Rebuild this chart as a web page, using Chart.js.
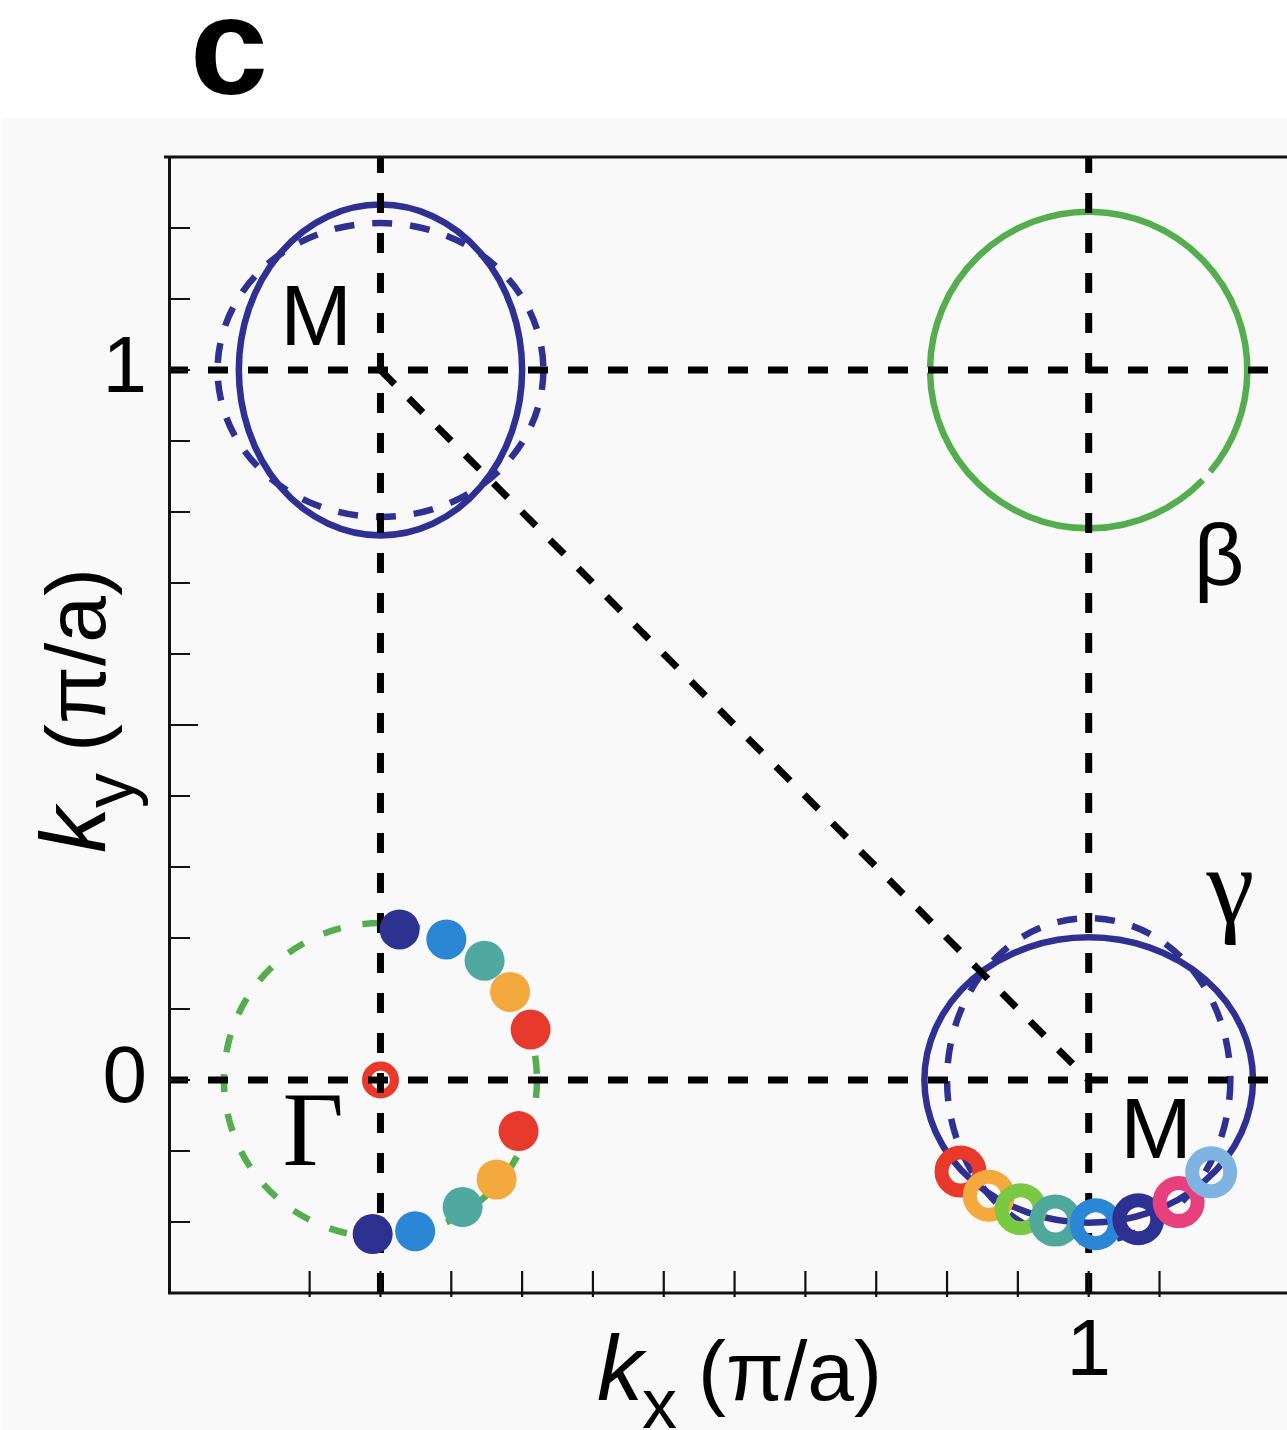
<!DOCTYPE html>
<html>
<head>
<meta charset="utf-8">
<title>Fermi surface sketch</title>
<script src="https://cdn.jsdelivr.net/npm/chart.js@4.4.1/dist/chart.umd.min.js"></script>
<style>
  html, body { margin: 0; padding: 0; background: #fff; overflow: hidden; }
  canvas { display: block; }
</style>
</head>
<body>
<canvas id="fs" width="1287" height="1430"></canvas>
<script>
// axis ranges, in pi/a
const xRange = [-0.3, 1.28];
const yRange = [-0.3, 1.3];
const xTickLabels = [1];
const yTickLabels = [0, 1];

// filled dots around Gamma
const gammaDotX = [0.027, 0.093, 0.147, 0.183, 0.212, 0.195, 0.164, 0.116, 0.049, -0.011];
const gammaDotY = [0.212, 0.198, 0.168, 0.124, 0.071, -0.072, -0.140, -0.179, -0.213, -0.217];
const gammaDotColors = ['#2d3190', '#2b86d6', '#4fa9a0', '#f4a93f', '#e83a2c',
                        '#e83a2c', '#f4a93f', '#4fa9a0', '#2b86d6', '#2d3190'];

// open rings on the lower M pocket
const ringX = [0.819, 0.859, 0.904, 0.953, 1.010, 1.070, 1.127, 1.173];
const ringY = [-0.129, -0.163, -0.182, -0.198, -0.203, -0.196, -0.172, -0.130];
const ringColors = ['#e8392b', '#f5a83c', '#7bc843', '#4fa89c', '#2b87d5', '#2d3292', '#e8407c', '#7fb4e2'];

// Gamma point marker
const gammaPointX = [0];
const gammaPointY = [0];

// contours: centre and semi-axes
const contourX  = [0, 0, 1, 1, 1, 0];
const contourY  = [1, 1, 1, 0, 0, 0];
const contourRx = [0.200, 0.230, 0.224, 0.232, 0.200, 0.221];
const contourRy = [0.233, 0.207, 0.223, 0.201, 0.228, 0.221];

// dashed guide lines (start -> end)
const guideX1 = [0, 1, -0.3, -0.3, 0];
const guideY1 = [-0.3, -0.3, 0, 1, 1];
const guideX2 = [0, 1, 1.28, 1.28, 1];
const guideY2 = [1.3, 1.3, 0, 1, 0];

// point labels
const symbolText = ['M', 'M', 'Γ', 'β', 'γ'];
const symbolX = [-0.091, 1.095, -0.095, 1.184, 1.200];
const symbolY = [1.035, -0.110, -0.120, 0.697, 0.222];

const navy = '#2e3192';
const green = '#56ad50';
const contourStyle = [
  { color: navy, dash: [] },
  { color: navy, dash: [20, 18] },
  { color: green, dash: [], arcs: [[-40, 179], [181, 316]] },
  { color: navy, dash: [] },
  { color: navy, dash: [20, 18] },
  { color: green, dash: [18, 22] }
];
const symbolFont = [
  "86px 'Liberation Sans'", "86px 'Liberation Sans'", "106px 'Liberation Serif'",
  "88px 'Liberation Sans'", "108px 'Liberation Serif'"
];

const near = (a, b) => Math.abs(a - b) < 1e-6;
const onStep = v => near(Math.round(v * 10) / 10, v);

const contours = {
  id: 'contours',
  beforeDraw(chart) {
    const { ctx, width, height } = chart;
    ctx.save();
    ctx.fillStyle = '#fff';
    ctx.fillRect(0, 0, width, height);
    ctx.fillStyle = '#f9f9f9';
    ctx.fillRect(2, 118, width - 2, height - 118);
    ctx.restore();
  },
  beforeDatasetsDraw(chart) {
    const { ctx, chartArea: a, scales: { x, y } } = chart;
    ctx.save();
    ctx.beginPath();
    ctx.rect(a.left, a.top, a.right - a.left, a.bottom - a.top);
    ctx.clip();
    contourX.forEach((cx, i) => {
      const st = contourStyle[i];
      const px = x.getPixelForValue(cx);
      const py = y.getPixelForValue(contourY[i]);
      const rx = Math.abs(x.getPixelForValue(cx + contourRx[i]) - px);
      const ry = Math.abs(y.getPixelForValue(contourY[i] + contourRy[i]) - py);
      ctx.strokeStyle = st.color;
      ctx.lineWidth = 6.5;
      ctx.setLineDash(st.dash);
      (st.arcs || [[0, 360]]).forEach(([a0, a1]) => {
        ctx.beginPath();
        ctx.ellipse(px, py, rx, ry, 0, -a1 * Math.PI / 180, -a0 * Math.PI / 180);
        ctx.stroke();
      });
    });
    ctx.restore();
  },
  afterDatasetsDraw(chart) {
    const { ctx, scales: { x, y } } = chart;
    ctx.save();
    ctx.fillStyle = '#000';
    ctx.textAlign = 'center';
    ctx.textBaseline = 'alphabetic';
    symbolText.forEach((t, i) => {
      ctx.font = symbolFont[i];
      ctx.fillText(t, x.getPixelForValue(symbolX[i]), y.getPixelForValue(symbolY[i]));
    });
    ctx.restore();
  }
};

function axisTitle(ctx, sub, ox, oy, rot) {
  ctx.save();
  ctx.translate(ox, oy);
  ctx.rotate(rot);
  ctx.fillStyle = '#000';
  ctx.textAlign = 'left';
  ctx.textBaseline = 'alphabetic';
  ctx.font = "italic 92px 'Liberation Sans'";
  ctx.fillText('k', 0, 0);
  ctx.font = "70px 'Liberation Sans'";
  ctx.fillText(sub, 45, 28);
  ctx.font = "84px 'Liberation Sans'";
  ctx.fillText('(π/a)', 101, 0);
  ctx.restore();
}

const frame = {
  id: 'frame',
  afterDraw(chart) {
    const { ctx, chartArea: a, scales: { x, y } } = chart;
    ctx.save();
    ctx.strokeStyle = '#111';
    ctx.setLineDash([]);
    ctx.lineWidth = 3;
    ctx.beginPath();
    ctx.moveTo(a.left - 4, a.top);
    ctx.lineTo(a.right, a.top);
    ctx.moveTo(a.left + 1.5, a.top);
    ctx.lineTo(a.left + 1.5, a.bottom);
    ctx.moveTo(a.left, a.bottom);
    ctx.lineTo(a.right, a.bottom);
    ctx.stroke();

    ctx.lineWidth = 2.2;
    ctx.beginPath();
    y.ticks.forEach(t => {
      if (!onStep(t.value) || near(t.value, yRange[0]) || near(t.value, yRange[1])) return;
      const p = y.getPixelForValue(t.value);
      const len = near(t.value, 0.5) ? 30 : 22;
      ctx.moveTo(a.left, p);
      ctx.lineTo(a.left + len, p);
    });
    x.ticks.forEach(t => {
      if (!onStep(t.value) || t.value < xRange[0] + 0.05 || t.value > xRange[1] - 0.05) return;
      const p = x.getPixelForValue(t.value);
      ctx.moveTo(p, a.bottom + 4);
      ctx.lineTo(p, a.bottom - 22);
    });
    ctx.stroke();
    ctx.restore();

    axisTitle(ctx, 'x', 597, 1400, 0);
    axisTitle(ctx, 'y', 105, 853, -Math.PI / 2);

    ctx.save();
    ctx.fillStyle = '#000';
    ctx.font = "bold 140px 'Liberation Sans'";
    ctx.textBaseline = 'alphabetic';
    ctx.fillText('c', 190, 94);
    ctx.restore();
  }
};

const toPoints = (xs, ys) => xs.map((v, i) => ({ x: v, y: ys[i] }));

const guides = guideX1.map((x1, i) => ({
  data: [{ x: x1, y: guideY1[i] }, { x: guideX2[i], y: guideY2[i] }],
  showLine: true,
  borderColor: '#000',
  borderWidth: 7,
  borderDash: [20, 20],
  pointRadius: 0,
  order: 3
}));

new Chart(document.getElementById('fs'), {
  type: 'scatter',
  data: {
    datasets: [
      {
        data: toPoints(gammaPointX, gammaPointY),
        pointRadius: 14,
        pointBorderWidth: 9,
        pointBorderColor: '#e8392b',
        pointBackgroundColor: 'rgba(0,0,0,0)',
        order: 4
      },
      ...guides,
      {
        data: toPoints(gammaDotX, gammaDotY),
        pointRadius: 20,
        pointBorderWidth: 0,
        pointBackgroundColor: gammaDotColors,
        order: 2
      },
      {
        data: toPoints(ringX, ringY),
        pointRadius: 19,
        pointBorderWidth: 14,
        pointBorderColor: ringColors,
        pointBackgroundColor: 'rgba(0,0,0,0)',
        order: 1
      }
    ]
  },
  options: {
    responsive: false,
    animation: false,
    devicePixelRatio: 1,
    layout: { autoPadding: false, padding: { top: 157, left: 0, right: 0, bottom: 0 } },
    plugins: { legend: { display: false }, tooltip: { enabled: false } },
    scales: {
      x: {
        type: 'linear',
        min: xRange[0],
        max: xRange[1],
        afterFit: s => { s.height = 137; s.paddingLeft = 0; s.paddingRight = 0; },
        grid: { display: false, drawTicks: false },
        border: { display: false },
        ticks: {
          stepSize: 0.1,
          autoSkip: false,
          maxRotation: 0,
          padding: 12,
          color: '#000',
          font: { family: "'Liberation Sans'", size: 80 },
          callback: v => xTickLabels.some(t => near(t, v)) ? String(Math.round(v)) : ''
        }
      },
      y: {
        type: 'linear',
        min: yRange[0],
        max: yRange[1],
        afterFit: s => { s.width = 168; s.paddingTop = 0; s.paddingBottom = 0; },
        grid: { display: false, drawTicks: false },
        border: { display: false },
        ticks: {
          stepSize: 0.1,
          autoSkip: false,
          padding: 21,
          color: '#000',
          font: { family: "'Liberation Sans'", size: 80 },
          callback: v => yTickLabels.some(t => near(t, v)) ? String(Math.round(v)) : ''
        }
      }
    }
  },
  plugins: [contours, frame]
});
</script>
</body>
</html>
